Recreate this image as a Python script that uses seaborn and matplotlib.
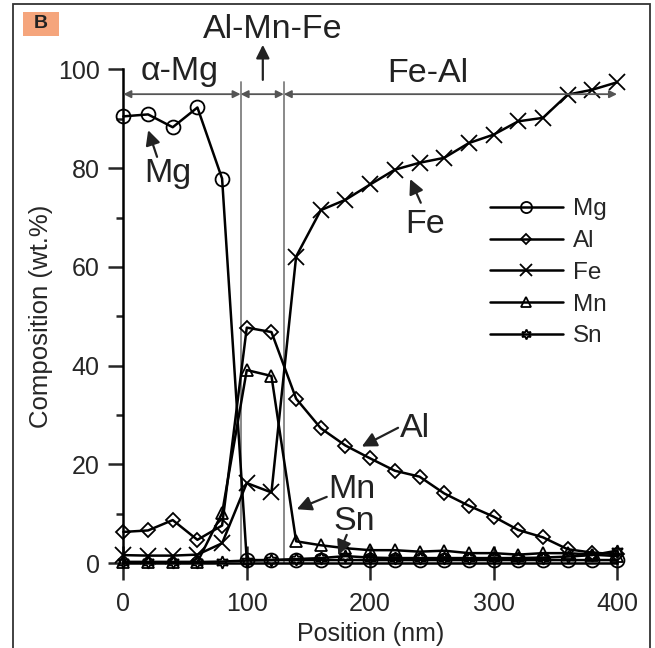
import numpy as np
import pandas as pd
import matplotlib
matplotlib.use("Agg")
import matplotlib.pyplot as plt
import seaborn as sns
from matplotlib.patches import Rectangle

# Composition profile across the interface (wt.%) vs position (nm)
position = [0, 20, 40, 60, 80, 100, 120, 140, 160, 180, 200, 220, 240, 260,
            280, 300, 320, 340, 360, 380, 400]
mg = [90.5, 90.9, 88.3, 92.3, 77.9, 0.6, 0.6, 0.6, 0.6, 0.6, 0.6, 0.6, 0.6,
      0.6, 0.6, 0.6, 0.6, 0.6, 0.6, 0.6, 0.6]
al = [6.3, 6.6, 8.7, 4.7, 7.6, 47.7, 46.8, 33.3, 27.3, 23.8, 21.2, 18.7,
      17.5, 14.1, 11.6, 9.4, 6.7, 5.2, 2.8, 2.1, 1.8]
fe = [1.6, 1.5, 1.5, 1.7, 4.0, 16.2, 14.3, 62.1, 71.5, 73.6, 76.7, 79.7,
      81.1, 82.1, 85.1, 86.8, 89.5, 90.2, 94.9, 95.9, 97.4]
mn = [0.2, 0.2, 0.2, 0.2, 10.1, 39.1, 37.9, 4.4, 3.6, 3.0, 2.6, 2.6, 2.3,
      2.5, 2.0, 2.0, 1.7, 2.0, 2.0, 1.7, 1.4]
sn = [0.2, 0.2, 0.2, 0.2, 0.3, 0.5, 0.6, 0.8, 1.0, 1.4, 1.1, 1.0, 1.0, 1.0,
      1.0, 1.0, 1.0, 1.1, 1.3, 1.6, 2.5]

elements = ["Mg", "Al", "Fe", "Mn", "Sn"]
series = [mg, al, fe, mn, sn]
markers = {"Mg": "o", "Al": "D", "Fe": "x", "Mn": "^", "Sn": (6, 1, 0)}
msizes = {"Mg": 10, "Al": 7, "Fe": 11, "Mn": 9, "Sn": 9}

# region boundaries and labels
boundaries = [95, 130]
regions = [("α-Mg", 0, 95), ("", 95, 130), ("Fe-Al", 130, 400)]

df = pd.DataFrame({"Position": position * len(elements),
                   "Composition": sum(series, []),
                   "Element": np.repeat(elements, len(position))})

sns.set_style("ticks")
plt.rcParams["font.family"] = ["Liberation Sans", "DejaVu Sans"]

fig = plt.figure(figsize=(6.55, 6.48), dpi=100)
ax = fig.add_axes([0.1695, 0.1083, 0.7913, 0.8073])

for el in elements:
    sub = df[df["Element"] == el]
    sns.lineplot(data=sub, x="Position", y="Composition", ax=ax,
                 color="black", lw=1.8, marker=markers[el],
                 markersize=msizes[el], fillstyle="none",
                 markeredgecolor="black", markerfacecolor="none",
                 markeredgewidth=1.3, label=el, clip_on=False, zorder=3)

ax.set_xlim(-10, 410)
ax.set_ylim(-3, 103)

# axes crossing at the origin
for side in ["top", "right"]:
    ax.spines[side].set_visible(False)
ax.spines["left"].set_position(("data", 0))
ax.spines["bottom"].set_position(("data", 0))
ax.spines["left"].set_bounds(0, 100)
ax.spines["bottom"].set_bounds(0, 400)
for side in ["left", "bottom"]:
    ax.spines[side].set_linewidth(1.8)
    ax.spines[side].set_color("black")

ax.set_xticks([0, 100, 200, 300, 400])
ax.set_yticks([0, 20, 40, 60, 80, 100])
ax.set_yticks([10, 30, 50, 70, 90], minor=True)
ax.tick_params(axis="y", which="major", direction="out", length=11, width=1.8,
               labelsize=18, pad=6)
ax.tick_params(axis="y", which="minor", direction="out", length=5, width=1.8)
ax.tick_params(axis="x", which="major", direction="inout", length=24, width=1.8,
               labelsize=18, pad=9)
ax.set_xlabel("Position (nm)", fontsize=18)
ax.set_ylabel("Composition (wt.%)", fontsize=18.5)
ax.xaxis.set_label_coords(0.5, -0.085)
ax.yaxis.set_label_coords(-0.112, 0.5)

# region dividers and extent arrows
for b in boundaries:
    ax.plot([b, b], [0, 97.5], color="#808080", lw=1.3, zorder=1)
for _, x0, x1 in regions:
    ax.annotate("", xy=(x0, 95), xytext=(x1, 95),
                arrowprops=dict(arrowstyle="<|-|>", color="#555555", lw=1.3,
                                mutation_scale=11, shrinkA=0, shrinkB=0))

big = 24.5
ax.text(45.3, 97.9, "α-Mg", fontsize=big, ha="center", va="baseline",
        color="#222222")
ax.text(247, 97.5, "Fe-Al", fontsize=big, ha="center", va="baseline",
        color="#222222")
ax.text(121.3, 106.4, "Al-Mn-Fe", fontsize=big, ha="center", va="baseline",
        color="#222222")
ax.annotate("", xy=(113, 105), xytext=(113, 97.9),
            arrowprops=dict(arrowstyle="-|>", color="#222222", lw=1.6,
                            mutation_scale=20, shrinkA=0, shrinkB=0),
            annotation_clip=False)

# curve labels with pointers: (text, text x, text baseline, tip, tail)
callouts = [
    ("Mg", 36.2, 77.3, (20.1, 87.7), (27.3, 82.3)),
    ("Fe", 244.4, 66.9, (232.4, 77.8), (241.0, 73.0)),
    ("Al", 236.5, 25.6, (193.2, 23.6), (222.6, 27.4)),
    ("Mn", 185.3, 13.1, (140.5, 10.9), (164.8, 13.4)),
    ("Sn", 186.9, 6.7, (174.2, 1.6), (181.0, 5.7)),
]
for txt, tx, ty, tip, tail in callouts:
    ax.text(tx, ty, txt, fontsize=big, ha="center", va="baseline",
            color="#222222")
    ax.annotate("", xy=tip, xytext=tail,
                arrowprops=dict(arrowstyle="-|>", color="#222222", lw=1.6,
                                mutation_scale=22, shrinkA=0, shrinkB=0))

leg = ax.legend(loc="upper left", bbox_to_anchor=(0.731, 0.7255),
                frameon=False, fontsize=17.5, handlelength=3.0,
                handletextpad=0.42, labelspacing=0.4, borderpad=0,
                borderaxespad=0)
for h in leg.legend_handles:
    h.set_markersize(h.get_markersize() * 0.8)

# outer frame and panel tag
fig.patches.append(Rectangle((13 / 655, -0.01), (650 - 13) / 655,
                             (648 - 4) / 648 + 0.01, transform=fig.transFigure,
                             fill=False, edgecolor="#333333", lw=1.3))
fig.patches.append(Rectangle((23 / 655, 1 - 36 / 648), 36 / 655, 24 / 648,
                             transform=fig.transFigure, facecolor="#F5A57C",
                             edgecolor="none"))
fig.text(41 / 655, 1 - 24 / 648, "B", fontsize=14, fontweight="bold",
         ha="center", va="center", color="#222222")

fig.savefig("out.png", dpi=100)
